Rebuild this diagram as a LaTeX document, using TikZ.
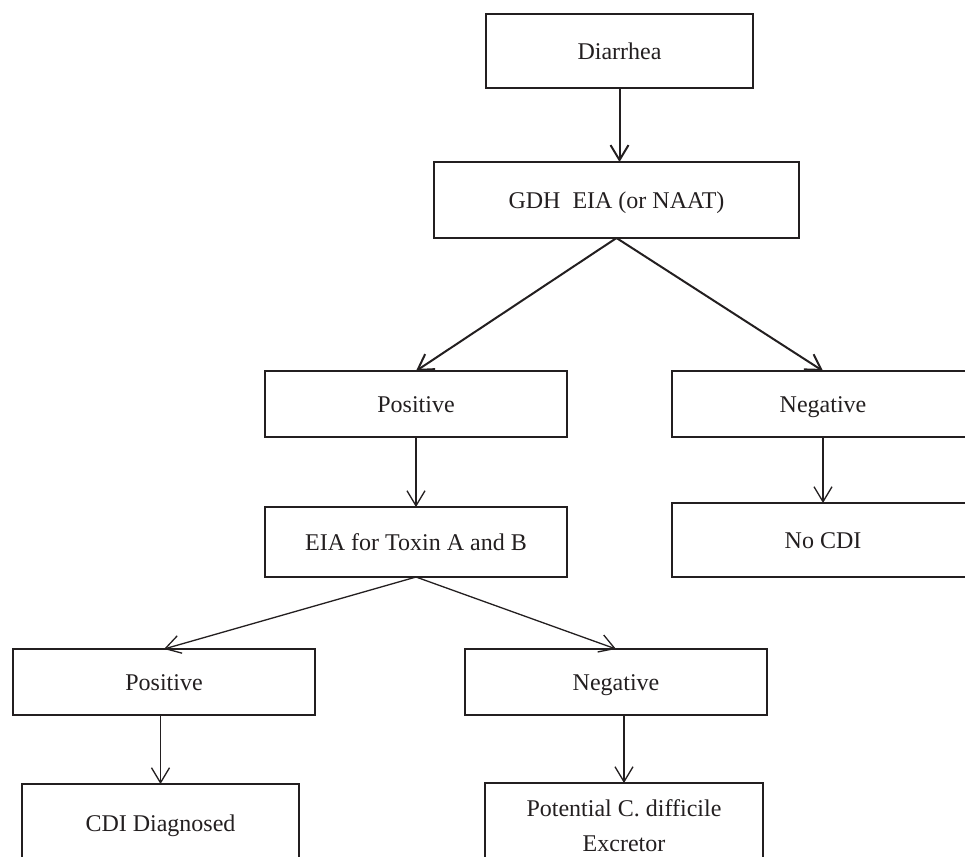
\documentclass[tikz,border=0pt]{standalone}
\usepackage{fontspec}
\setmainfont{Liberation Serif}
\usepackage{xcolor}
\usetikzlibrary{positioning,arrows.meta}

\definecolor{ink}{RGB}{35,31,32}

\begin{document}
\begin{tikzpicture}[>={Straight Barb[length=7.5pt,width=9pt]}, color=ink,
    box/.style={draw, line width=1pt, minimum width=151pt, minimum height=33pt, inner sep=2pt, outer sep=0pt,
      text height=8pt, text depth=0pt, font=\fontsize{12}{17.5}\selectfont, align=center},
    flow/.style={->, line width=0.65pt},
    bigflow/.style={->, line width=1pt}]
    \useasboundingbox (0,0) rectangle (482.5pt,-428.5pt);
    \clip (0,0) rectangle (482.5pt,-428.5pt);

    % first test
    \node[box, minimum width=133.5pt, minimum height=37pt] (diarrhea) at (309.75pt,-25.5pt) {Diarrhea};
    \node[box, below=37pt of diarrhea, xshift=-1.5pt, minimum width=182.5pt, minimum height=38pt] (gdh) {GDH\ \ EIA (or NAAT)};
    \node[box, below=66.5pt of gdh, xshift=-100.25pt] (pos1) {Positive};
    \node[box, below=66.5pt of gdh, xshift=103.25pt] (neg1) {Negative};
    \node[box, below=33pt of neg1, minimum height=37pt] (nocdi) {No CDI};

    % toxin test
    \node[box, below=35pt of pos1, minimum height=35pt] (eia) {EIA for Toxin A and B};
    \node[box, below=36pt of eia, xshift=-126pt] (pos2) {Positive};
    \node[box, below=36pt of eia, xshift=100pt] (neg2) {Negative};
    \node[box, below=34.5pt of pos2, xshift=-1.75pt, minimum width=138.5pt, minimum height=39pt] (cdi) {CDI Diagnosed};
    \node[box, below=34pt of neg2, xshift=4pt, minimum width=139pt, minimum height=42.5pt,
      text height=25.5pt] (excretor) {Potential C. difficile\\Excretor};

    \draw[bigflow] (diarrhea) -- (diarrhea.south |- gdh.north);
    \draw[bigflow] (gdh.south) -- (pos1.north);
    \draw[bigflow] (gdh.south) -- (neg1.north);
    \draw[flow] (neg1) -- (nocdi);
    \draw[flow] (pos1.south -| eia.north) -- (eia.north);
    \draw[flow] (eia.south) -- (pos2.north);
    \draw[flow] (eia.south) -- (neg2.north);
    \draw[flow] (pos2.south -| cdi.north) -- (cdi.north);
    \draw[flow] (neg2.south -| excretor.north) -- (excretor.north);
\end{tikzpicture}
\end{document}
